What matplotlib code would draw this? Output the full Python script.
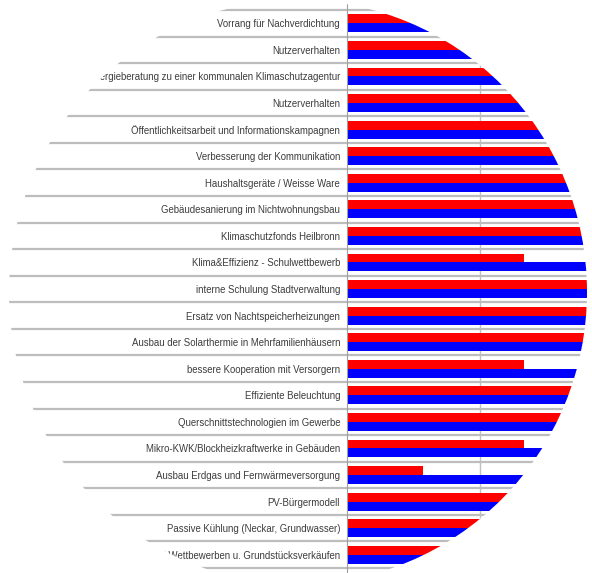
import matplotlib
matplotlib.use("Agg")
import matplotlib.pyplot as plt
from matplotlib.path import Path
from matplotlib.patches import PathPatch
from matplotlib.transforms import Affine2D
import numpy as np

plt.rcParams['font.family'] = ['Liberation Sans', 'DejaVu Sans']

labels = [
    "Vorrang für Nachverdichtung",
    "Nutzerverhalten",
    "Energieberatung zu einer kommunalen Klimaschutzagentur",
    "Nutzerverhalten",
    "Öffentlichkeitsarbeit und Informationskampagnen",
    "Verbesserung der Kommunikation",
    "Haushaltsgeräte / Weisse Ware",
    "Gebäudesanierung im Nichtwohnungsbau",
    "Klimaschutzfonds Heilbronn",
    "Klima&Effizienz - Schulwettbewerb",
    "interne Schulung Stadtverwaltung",
    "Ersatz von Nachtspeicherheizungen",
    "Ausbau der Solarthermie in Mehrfamilienhäusern",
    "bessere Kooperation mit Versorgern",
    "Effiziente Beleuchtung",
    "Querschnittstechnologien im Gewerbe",
    "Mikro-KWK/Blockheizkraftwerke in Gebäuden",
    "Ausbau Erdgas und Fernwärmeversorgung",
    "PV-Bürgermodell",
    "Passive Kühlung (Neckar, Grundwasser)",
    "Energiestandards bei Wettbewerben u. Grundstücksverkäufen",
]
red_vals = [1.0, 1.0, 1.0, 1.0, 1.0, 1.0, 1.0, 1.0, 1.0, 0.667, 1.0,
            1.0, 1.0, 0.667, 1.0, 1.0, 0.667, 0.286, 1.0, 1.0, 1.0]
blue_vals = [1.0] * 21

W, H = 592, 573
fig = plt.figure(figsize=(W / 100, H / 100), dpi=100)
fig.patch.set_facecolor("white")

row_px = 26.57
n = len(labels)
top_px = 10 - row_px * 0.5
bot_px = 568 + row_px * 0.5
x0_px, x1_px = 347, 613
ax = fig.add_axes([x0_px / W, (H - bot_px) / H,
                   (x1_px - x0_px) / W, (bot_px - top_px) / H])

y = np.arange(n)
ax.barh(y - 0.165, red_vals, height=0.335, color="#ff0000", zorder=3)
ax.barh(y + 0.17, blue_vals, height=0.335, color="#0000ff", zorder=3)

ax.set_xlim(0, 1)
ax.set_ylim(n, -1.0)
ax.set_yticks(y)
ax.set_yticklabels(labels, fontsize=6.9, color="#3c3c3c")
ax.tick_params(axis="y", length=0, pad=5)
ax.set_xticks([0.5])
ax.tick_params(axis="x", length=0, labelbottom=False)
ax.xaxis.grid(True, color="#c0c0c0", linewidth=1, zorder=1)

for s in ["top", "right", "bottom"]:
    ax.spines[s].set_visible(False)
ax.spines["left"].set_color("#a0a0a0")
ax.spines["left"].set_zorder(4)

for b in np.arange(n + 1) - 0.5:
    ax.plot([-1.5, 1], [b, b], transform=ax.get_yaxis_transform(),
            color="#bdbdbd", linewidth=1.6, clip_on=False, zorder=2)

# circular crop: white mask with an elliptical hole
cx, cy = 298 / 100, (H - 292) / 100
ew, eh = 578 / 100, 584 / 100
circ = Path.unit_circle().transformed(Affine2D().scale(ew / 2, eh / 2).translate(cx, cy))
rect = Path([(-1, -1), (-1, 8), (8, 8), (8, -1), (-1, -1)],
            [Path.MOVETO, Path.LINETO, Path.LINETO, Path.LINETO, Path.CLOSEPOLY])
mask = Path.make_compound_path(rect, circ)
fig.add_artist(PathPatch(mask, facecolor="white", edgecolor="none",
                         transform=fig.dpi_scale_trans, zorder=100))

fig.savefig("out.png", dpi=100)
